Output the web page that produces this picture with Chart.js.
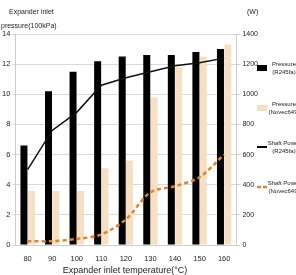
<!DOCTYPE html>
<html>
<head>
<meta charset="utf-8">
<script src="https://cdn.jsdelivr.net/npm/chart.js@4.4.1/dist/chart.umd.min.js"></script>
<style>
  html, body { margin: 0; padding: 0; background: #fff; }
  #wrap { position: relative; width: 296px; height: 275px; }
</style>
</head>
<body>
<div id="wrap"><canvas id="chart" width="296" height="275"></canvas></div>
<script>
  // data
  const temps = ['80', '90', '100', '110', '120', '130', '140', '150', '160'];
  const pressureR245fa = [6.6, 10.2, 11.5, 12.2, 12.5, 12.6, 12.6, 12.8, 13.0];
  const pressureNovec = [3.6, 3.6, 3.6, 5.1, 5.6, 9.8, 11.8, 12.5, 13.3];
  const powerR245fa = [500, 760, 880, 1060, 1110, 1150, 1190, 1210, 1240];
  const powerNovec = [25, 25, 40, 70, 170, 350, 390, 450, 600];

  const FONT = "'Liberation Sans Narrow', 'Liberation Sans', sans-serif";
  const ORANGE = '#e2842a';
  const BEIGE = '#f6dfc3';

  // legend + axis titles drawn by hand, texts on two lines like the original
  const legendItems = [
    { lines: ['Pressure', '(R245fa)'], kind: 'box', color: '#000', y: 68 },
    { lines: ['Pressure', '(Novec649)'], kind: 'box', color: BEIGE, y: 108 },
    { lines: ['Shaft Power', '(R245fa)'], kind: 'line', color: '#000', y: 147 },
    { lines: ['Shaft Power', '(Novec649)'], kind: 'dash', color: ORANGE, y: 187 }
  ];

  const extras = {
    id: 'extras',
    afterDraw(chart) {
      const ctx = chart.ctx;
      ctx.save();
      ctx.fillStyle = '#222';
      ctx.font = '7px ' + FONT;
      ctx.textBaseline = 'middle';
      ctx.textAlign = 'left';
      ctx.fillText('Expander inlet', 9, 12);
      ctx.fillText('pressure(100kPa)', 1, 26);
      ctx.fillText('(W)', 247, 12);
      ctx.textAlign = 'center';
      ctx.font = '9px ' + FONT;
      ctx.fillText('Expander inlet temperature(\u00b0C)', 125, 271);

      ctx.font = '6px ' + FONT;
      legendItems.forEach((it) => {
        const y = it.y;
        if (it.kind === 'box') {
          ctx.fillStyle = it.color;
          ctx.fillRect(257, y - 3, 10, 6);
        } else {
          ctx.strokeStyle = it.color;
          ctx.lineWidth = it.kind === 'dash' ? 2.5 : 2;
          ctx.setLineDash(it.kind === 'dash' ? [4, 2] : []);
          ctx.beginPath();
          ctx.moveTo(257, y);
          ctx.lineTo(267, y);
          ctx.stroke();
          ctx.setLineDash([]);
        }
        ctx.fillStyle = '#222';
        ctx.textAlign = 'center';
        ctx.fillText(it.lines[0], 284, y - 4);
        ctx.fillText(it.lines[1], 284, y + 4);
      });
      ctx.restore();
    }
  };

  new Chart(document.getElementById('chart'), {
    type: 'bar',
    data: {
      labels: temps,
      datasets: [
        {
          type: 'line',
          label: 'Shaft Power (R245fa)',
          data: powerR245fa,
          yAxisID: 'yPower',
          borderColor: '#111',
          borderWidth: 1.5,
          pointRadius: 0,
          tension: 0,
          order: 1
        },
        {
          type: 'line',
          label: 'Shaft Power (Novec649)',
          data: powerNovec,
          yAxisID: 'yPower',
          borderColor: ORANGE,
          borderWidth: 2.5,
          borderDash: [4, 3],
          pointRadius: 0,
          tension: 0.3,
          order: 0
        },
        {
          label: 'Pressure (R245fa)',
          data: pressureR245fa,
          yAxisID: 'yPress',
          backgroundColor: '#000',
          categoryPercentage: 0.6,
          barPercentage: 0.95,
          order: 2
        },
        {
          label: 'Pressure (Novec649)',
          data: pressureNovec,
          yAxisID: 'yPress',
          backgroundColor: BEIGE,
          categoryPercentage: 0.6,
          barPercentage: 0.95,
          order: 3
        }
      ]
    },
    options: {
      responsive: false,
      animation: false,
      layout: { padding: { top: 34, right: 36, bottom: 3, left: 0 } },
      plugins: {
        legend: { display: false },
        tooltip: { enabled: false }
      },
      scales: {
        x: {
          grid: { display: false, drawTicks: false },
          border: { color: '#ccc' },
          ticks: { color: '#222', font: { family: FONT, size: 7.5 }, padding: 9 }
        },
        yPress: {
          position: 'left',
          min: 0,
          max: 14,
          ticks: { stepSize: 2, color: '#222', font: { family: FONT, size: 7.5 }, padding: 2 },
          grid: { color: '#d9d9d9', tickLength: 3 },
          border: { color: '#ccc' }
        },
        yPower: {
          position: 'right',
          min: 0,
          max: 1400,
          ticks: {
            stepSize: 200,
            color: '#222',
            font: { family: FONT, size: 7 },
            padding: 2,
            callback: (v) => String(v)
          },
          grid: { drawOnChartArea: false, color: '#ccc', tickLength: 4 },
          border: { color: '#ccc' }
        }
      }
    },
    plugins: [extras]
  });
</script>
</body>
</html>
